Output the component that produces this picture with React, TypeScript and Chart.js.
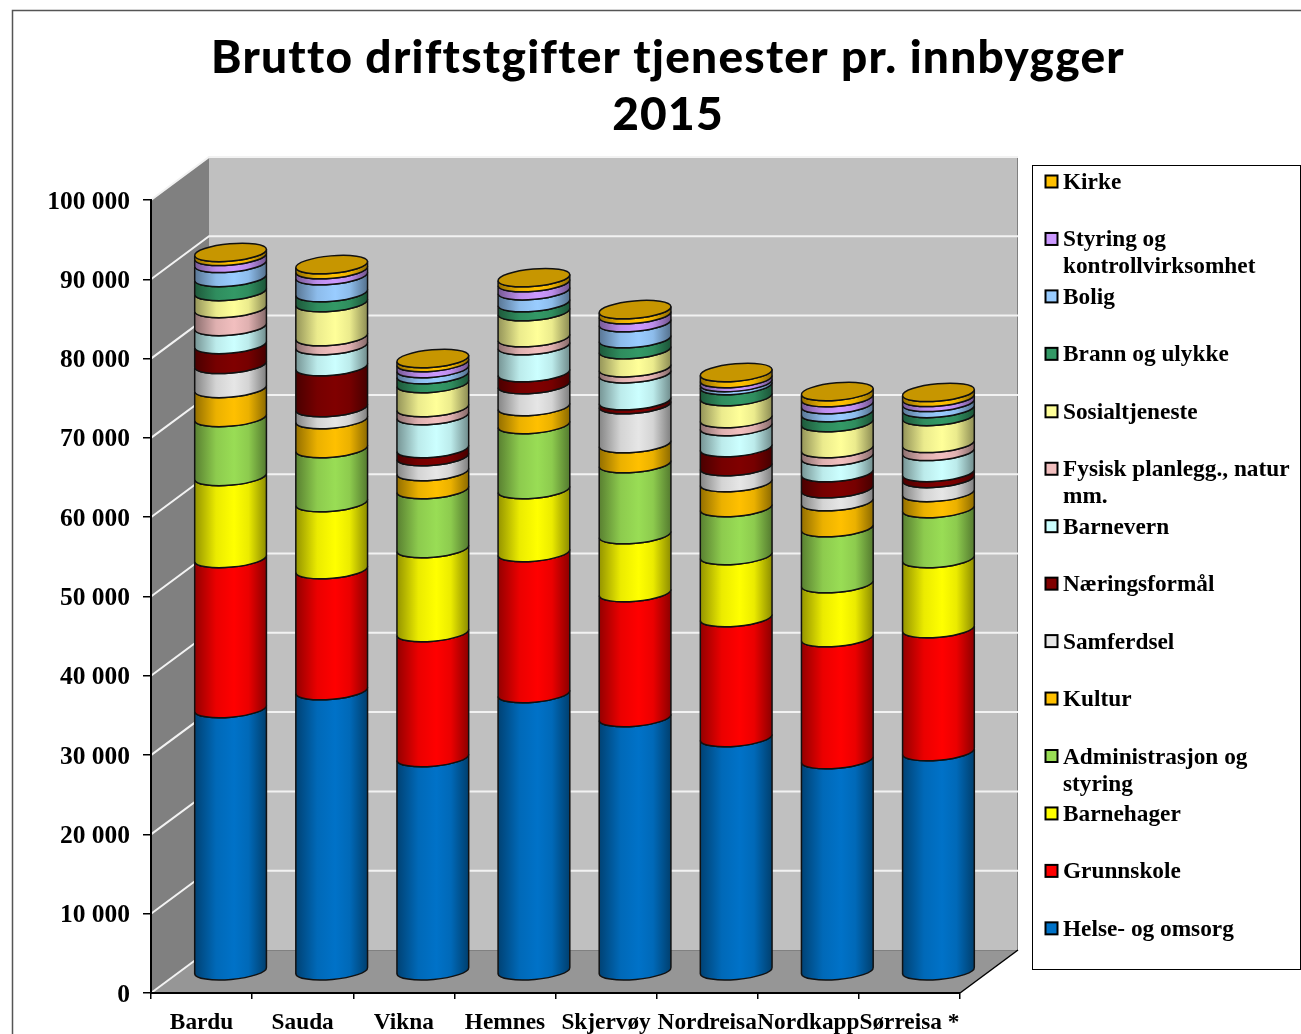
import React, { useEffect, useRef } from "react";
import { Chart, registerables } from "chart.js";

Chart.register(...registerables);

const categories = ["Bardu", "Sauda", "Vikna", "Hemnes", "Skjervøy", "Nordreisa", "Nordkapp", "Sørreisa *"];
const titleLines = ["Brutto driftstgifter tjenester pr. innbygger", "2015"];

const helse = [33170, 35430, 26990, 35060, 32030, 29510, 26730, 27740];
const grunnskole = [18920, 15260, 15760, 17780, 15760, 15130, 15380, 15510];
const barnehager = [10340, 8450, 10590, 7940, 7310, 7820, 6810, 8830];
const administrasjon = [7440, 6810, 7440, 8200, 8950, 6050, 7060, 6310];
const kultur = [3660, 3660, 2270, 2270, 2520, 3150, 3280, 2020];
const samferdsel = [3030, 1510, 1890, 2770, 4920, 2020, 1640, 1770];
const naeringsformal = [2520, 5170, 1010, 1510, 500, 2400, 2020, 760];
const barnevern = [2270, 2650, 4160, 3400, 3400, 2650, 2020, 2650];
const fysisk = [2270, 1130, 1010, 1010, 760, 1010, 1010, 1010];
const sosialtjeneste = [2140, 4290, 3030, 3280, 2270, 2770, 3280, 3400];
const brann = [1770, 1260, 1130, 1130, 1390, 1390, 1260, 1010];
const bolig = [1770, 2140, 760, 1510, 2020, 380, 1010, 760];
const styring = [880, 760, 760, 1010, 1010, 500, 880, 630];
const kirke = [500, 630, 500, 630, 630, 760, 760, 630];

const seriesTable: [string, number[], string][] = [
  ["Helse- og omsorg", helse, "#0072C8"],
  ["Grunnskole", grunnskole, "#FF0000"],
  ["Barnehager", barnehager, "#FFFF00"],
  ["Administrasjon og styring", administrasjon, "#99DD55"],
  ["Kultur", kultur, "#FFC000"],
  ["Samferdsel", samferdsel, "#E6E6E6"],
  ["Næringsformål", naeringsformal, "#800000"],
  ["Barnevern", barnevern, "#CCFFFF"],
  ["Fysisk planlegg., natur mm.", fysisk, "#F2BFBF"],
  ["Sosialtjeneste", sosialtjeneste, "#FFFF99"],
  ["Brann og ulykke", brann, "#339966"],
  ["Bolig", bolig, "#99CCFF"],
  ["Styring og kontrollvirksomhet", styring, "#CC99FF"],
  ["Kirke", kirke, "#FFC000"],
];

const SERIF = '"Liberation Serif"';
const DEPTH_X = 58;
const DEPTH_Y = 43;
const RY = 8.7;
const TILT = (-5 * Math.PI) / 180;
const CAP_COLOR = "#C79600";

function shade(hex: string, f: number) {
  const n = parseInt(hex.slice(1), 16);
  const c = [(n >> 16) & 255, (n >> 8) & 255, n & 255].map((v) => Math.round(v * f));
  return `rgb(${c[0]},${c[1]},${c[2]})`;
}

const wallsPlugin = {
  id: "walls",
  beforeDraw(chart: any) {
    const { ctx, chartArea: a, scales } = chart;
    const y = scales.y;
    ctx.save();
    ctx.fillStyle = "#fff";
    ctx.fillRect(0, 0, chart.width, chart.height);

    // outer frame
    ctx.strokeStyle = "#555";
    ctx.lineWidth = 1.5;
    ctx.beginPath();
    ctx.moveTo(12.5, chart.height);
    ctx.lineTo(12.5, 10.5);
    ctx.lineTo(chart.width, 10.5);
    ctx.stroke();

    // back wall
    ctx.fillStyle = "#C0C0C0";
    ctx.fillRect(a.left + DEPTH_X, a.top - DEPTH_Y, a.width, a.height);
    // left wall
    ctx.fillStyle = "#808080";
    ctx.beginPath();
    ctx.moveTo(a.left, a.top);
    ctx.lineTo(a.left + DEPTH_X, a.top - DEPTH_Y);
    ctx.lineTo(a.left + DEPTH_X, a.bottom - DEPTH_Y);
    ctx.lineTo(a.left, a.bottom);
    ctx.closePath();
    ctx.fill();
    // floor
    ctx.fillStyle = "#969696";
    ctx.beginPath();
    ctx.moveTo(a.left, a.bottom);
    ctx.lineTo(a.left + DEPTH_X, a.bottom - DEPTH_Y);
    ctx.lineTo(a.right + DEPTH_X, a.bottom - DEPTH_Y);
    ctx.lineTo(a.right, a.bottom);
    ctx.closePath();
    ctx.fill();
    // right edge of back wall and floor
    ctx.strokeStyle = "#808080";
    ctx.lineWidth = 1;
    ctx.beginPath();
    ctx.moveTo(a.left + DEPTH_X, a.bottom - DEPTH_Y + 0.5);
    ctx.lineTo(a.right + DEPTH_X, a.bottom - DEPTH_Y + 0.5);
    ctx.moveTo(a.right + DEPTH_X - 0.5, a.top - DEPTH_Y);
    ctx.lineTo(a.right + DEPTH_X - 0.5, a.bottom - DEPTH_Y);
    ctx.stroke();
    ctx.strokeStyle = "#000";
    ctx.lineWidth = 1.5;
    ctx.beginPath();
    ctx.moveTo(a.right, a.bottom);
    ctx.lineTo(a.right + DEPTH_X, a.bottom - DEPTH_Y);
    ctx.stroke();

    // wall grid lines from the axis ticks
    ctx.strokeStyle = "#F2F2F2";
    ctx.lineWidth = 2;
    y.ticks.forEach((t: any) => {
      const py = y.getPixelForValue(t.value);
      ctx.beginPath();
      ctx.moveTo(a.left, py);
      ctx.lineTo(a.left + DEPTH_X, py - DEPTH_Y);
      if (t.value > 0) ctx.lineTo(a.right + DEPTH_X, py - DEPTH_Y);
      ctx.stroke();
    });
    ctx.restore();
  },
};

const cylinderPlugin = {
  id: "cylinders",
  beforeDatasetsDraw(chart: any) {
    const { ctx, data } = chart;
    ctx.save();
    const metas = data.datasets.map((_: any, i: number) => chart.getDatasetMeta(i));
    categories.forEach((_, c) => {
      metas.forEach((meta: any, s: number) => {
        const el = meta.data[c];
        const cx = el.x + DEPTH_X / 2;
        const rx = el.width / 2;
        const top = el.y - DEPTH_Y / 2;
        const bottom = el.base - DEPTH_Y / 2;
        const color = data.datasets[s].backgroundColor;
        const g = ctx.createLinearGradient(cx - rx, 0, cx + rx, 0);
        g.addColorStop(0, shade(color, 0.58));
        g.addColorStop(0.3, shade(color, 0.92));
        g.addColorStop(0.55, color);
        g.addColorStop(0.75, shade(color, 0.92));
        g.addColorStop(1, shade(color, 0.55));
        ctx.beginPath();
        ctx.ellipse(cx, top, rx, RY, TILT, 0, Math.PI, false);
        ctx.ellipse(cx, bottom, rx, RY, TILT, Math.PI, 0, true);
        ctx.closePath();
        ctx.fillStyle = g;
        ctx.fill();
        ctx.strokeStyle = "#111";
        ctx.lineWidth = 1.5;
        ctx.stroke();
        if (s === metas.length - 1) {
          ctx.beginPath();
          ctx.ellipse(cx, top, rx, RY, TILT, 0, Math.PI * 2);
          ctx.fillStyle = CAP_COLOR;
          ctx.fill();
          ctx.stroke();
        }
      });
    });
    ctx.restore();
    return false;
  },
};

const textPlugin = {
  id: "chartText",
  afterDraw(chart: any) {
    const { ctx, data } = chart;
    ctx.save();
    // title
    ctx.fillStyle = "#000";
    ctx.textAlign = "center";
    ctx.textBaseline = "alphabetic";
    ctx.font = "900 46px Lato";
    (ctx as any).letterSpacing = "1.25px";
    titleLines.forEach((line, i) => ctx.fillText(line, 668, 73 + i * 57));
    (ctx as any).letterSpacing = "0px";

    // legend
    ctx.fillStyle = "#fff";
    ctx.fillRect(1032.5, 165.5, 268, 804);
    ctx.strokeStyle = "#000";
    ctx.lineWidth = 1;
    ctx.strokeRect(1032.5, 165.5, 268, 804);
    ctx.textAlign = "left";
    ctx.font = `bold 23.3px ${SERIF}`;
    const items = [...data.datasets].reverse();
    items.forEach((ds: any, i: number) => {
      const yc = 181.5 + i * 57.45;
      ctx.fillStyle = ds.backgroundColor;
      ctx.fillRect(1045.5, yc - 6, 12, 12);
      ctx.strokeStyle = "#000";
      ctx.lineWidth = 2;
      ctx.strokeRect(1045.5, yc - 6, 12, 12);
      const lines: string[] = [];
      let cur = "";
      ds.label.split(" ").forEach((w: string) => {
        const t = cur ? cur + " " + w : w;
        if (ctx.measureText(t).width > 235 && cur) {
          lines.push(cur);
          cur = w;
        } else cur = t;
      });
      lines.push(cur);
      ctx.fillStyle = "#000";
      lines.forEach((l, k) => ctx.fillText(l, 1063, yc + 7.5 + k * 27));
    });
    ctx.restore();
  },
};

export default function App() {
  const ref = useRef<HTMLCanvasElement | null>(null);
  useEffect(() => {
    const chart = new Chart(ref.current as HTMLCanvasElement, {
      type: "bar",
      data: {
        labels: categories,
        datasets: seriesTable.map(([label, values, color]) => ({
          label,
          data: values,
          backgroundColor: color,
          barPercentage: 1,
          categoryPercentage: 0.712,
        })),
      },
      options: {
        responsive: false,
        animation: false,
        devicePixelRatio: 1,
        layout: { padding: { top: 200, right: 341, left: 0, bottom: 0 } },
        plugins: { legend: { display: false }, title: { display: false }, tooltip: { enabled: false } },
        scales: {
          x: {
            stacked: true,
            offset: true,
            afterFit: (s: any) => {
              s.height = 41;
            },
            grid: { offset: true, drawOnChartArea: false, color: "#000", tickColor: "#000", tickLength: 6, lineWidth: 1.5 },
            border: { color: "#000", width: 2 },
            ticks: {
              autoSkip: false,
              maxRotation: 0,
              minRotation: 0,
              color: "#000",
              padding: 10,
              font: { family: SERIF, weight: "bold", size: 23.3 },
            },
          },
          y: {
            stacked: true,
            min: 0,
            max: 100000,
            afterFit: (s: any) => {
              s.width = 151;
            },
            grid: { drawOnChartArea: false, color: "#000", tickColor: "#000", tickLength: 8, lineWidth: 1.5 },
            border: { color: "#000", width: 2 },
            ticks: {
              stepSize: 10000,
              color: "#000",
              padding: 13,
              labelOffset: 2,
              font: { family: SERIF, weight: "bold", size: 25.5 },
              callback: (v: any) => String(v).replace(/\B(?=(\d{3})+$)/g, " "),
            },
          },
        },
      },
      plugins: [wallsPlugin, cylinderPlugin, textPlugin],
    } as any);
    return () => chart.destroy();
  }, []);
  return <canvas ref={ref} width={1301} height={1034} style={{ position: "absolute", left: 0, top: 0, display: "block" }} />;
}
